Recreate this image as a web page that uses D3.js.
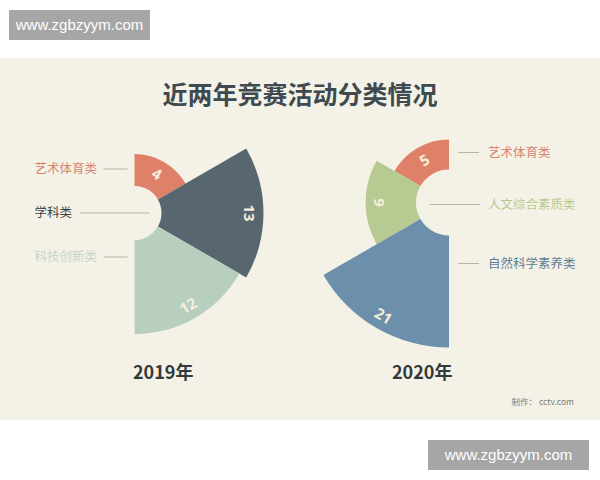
<!DOCTYPE html>
<html><head><meta charset="utf-8">
<script src="https://cdn.jsdelivr.net/npm/d3@7"></script>
<style>
html,body{margin:0;padding:0;background:#fff;}
svg{display:block;font-family:"Noto Sans CJK SC","Noto Sans",sans-serif;}
</style></head>
<body>
<script>
// ---- data ----
const title = "近两年竞赛活动分类情况";
const years = ["2019年", "2020年"];
const cats2019 = ["艺术体育类", "学科类", "科技创新类"];
const vals2019 = [4, 13, 12];
const cats2020 = ["艺术体育类", "人文综合素质类", "自然科学素养类"];
const vals2020 = [5, 9, 21];
const credit = "制作： cctv.com";
const watermark = "www.zgbzyym.com";

// ---- styles ----
const W = 600, H = 480;
const colors2019 = ["#df8168", "#58676f", "#b8cfbf"];
const labelColors2019 = ["#d98570", "#3a3f42", "#c9d4c8"];
const colors2020 = ["#df8168", "#b6ca92", "#6c8fab"];
const labelColors2020 = ["#d98570", "#b9c994", "#5c7d95"];

const svg = d3.select("body").append("svg").attr("width", W).attr("height", H);
svg.append("rect").attr("width", W).attr("height", H).attr("fill", "#ffffff");
svg.append("rect").attr("x", 0).attr("y", 58).attr("width", W).attr("height", 362).attr("fill", "#f4f2e6");

svg.append("text").attr("x", 300).attr("y", 104).attr("text-anchor", "middle")
  .attr("font-size", 25).attr("font-weight", 700).attr("fill", "#3f4a50").text(title);

function drawChart(cfg) {
  const g = svg.append("g").attr("transform", `translate(${cfg.cx},${cfg.cy})`);
  const r = d3.scaleLinear().domain(d3.extent(cfg.values)).range(cfg.rRange);
  const pie = d3.pie().value(() => 1).sort(null).startAngle(0).endAngle(cfg.dir * Math.PI);
  const arcs = pie(cfg.values);
  const arc = d3.arc().innerRadius(cfg.r0).outerRadius(d => r(d.data));
  g.selectAll("path.seg").data(arcs).join("path").attr("class", "seg")
    .attr("d", arc).attr("fill", (d, i) => cfg.colors[i]);
  g.selectAll("text.val").data(arcs).join("text").attr("class", "val")
    .attr("transform", d => {
      const a = (d.startAngle + d.endAngle) / 2;
      const rr = r(d.data) - 14;
      let deg = a * 180 / Math.PI;
      if (deg > 90) deg -= 180;
      if (deg <= -90) deg += 180;
      return `translate(${rr * Math.sin(a)},${-rr * Math.cos(a)}) rotate(${deg})`;
    })
    .attr("text-anchor", "middle").attr("dy", "0.36em")
    .attr("font-size", 15).attr("font-weight", 700).attr("fill", "#f5f0da")
    .attr("font-family", "'Open Sans','Noto Sans',sans-serif")
    .text(d => d.data);
  cfg.cats.forEach((c, i) => {
    const y = cfg.labelY[i];
    const ln = cfg.lines[i];
    g.append("line").attr("x1", ln[0]).attr("x2", ln[1]).attr("y1", y).attr("y2", y)
      .attr("stroke", "#b9b5a5").attr("stroke-width", 1);
    g.append("text").attr("x", cfg.labelX).attr("y", y).attr("dy", "0.35em")
      .attr("text-anchor", "start").attr("font-size", 12.5).attr("fill", cfg.labelColors[i]).text(c);
  });
  svg.append("text").attr("x", cfg.yearX).attr("y", 379).attr("font-size", 18).attr("font-weight", 700)
    .attr("fill", "#333a3c").text(cfg.year);
}

drawChart({cx: 134.5, cy: 213, r0: 27, rRange: [59, 129], dir: 1, values: vals2019, cats: cats2019,
  colors: colors2019, labelColors: labelColors2019, labelX: -100, labelY: [-44, 0, 44],
  lines: [[-31, -7], [-55, 15], [-31, -7]], year: years[0], yearX: 133});
drawChart({cx: 449, cy: 202.5, r0: 33, rRange: [63, 145], dir: -1, values: vals2020, cats: cats2020,
  colors: colors2020, labelColors: labelColors2020, labelX: 39, labelY: [-50, 2, 61],
  lines: [[9, 30], [-19, 31], [9, 30]], year: years[1], yearX: 392});

svg.append("text").attr("x", 574).attr("y", 405).attr("text-anchor", "end")
  .attr("font-size", 8.5).attr("fill", "#7a7a74").text(credit);

function mark(x, y, w, h) {
  svg.append("rect").attr("x", x).attr("y", y).attr("width", w).attr("height", h).attr("fill", "#a6a6a6");
  svg.append("text").attr("x", x + w / 2).attr("y", y + h / 2).attr("dy", "0.36em").attr("text-anchor", "middle")
    .attr("font-size", 15).attr("fill", "#ffffff").attr("font-family", "'Liberation Sans',Arial,sans-serif").text(watermark);
}
mark(9, 10, 141, 30);
mark(428, 440, 161, 30);
</script>
</body></html>
